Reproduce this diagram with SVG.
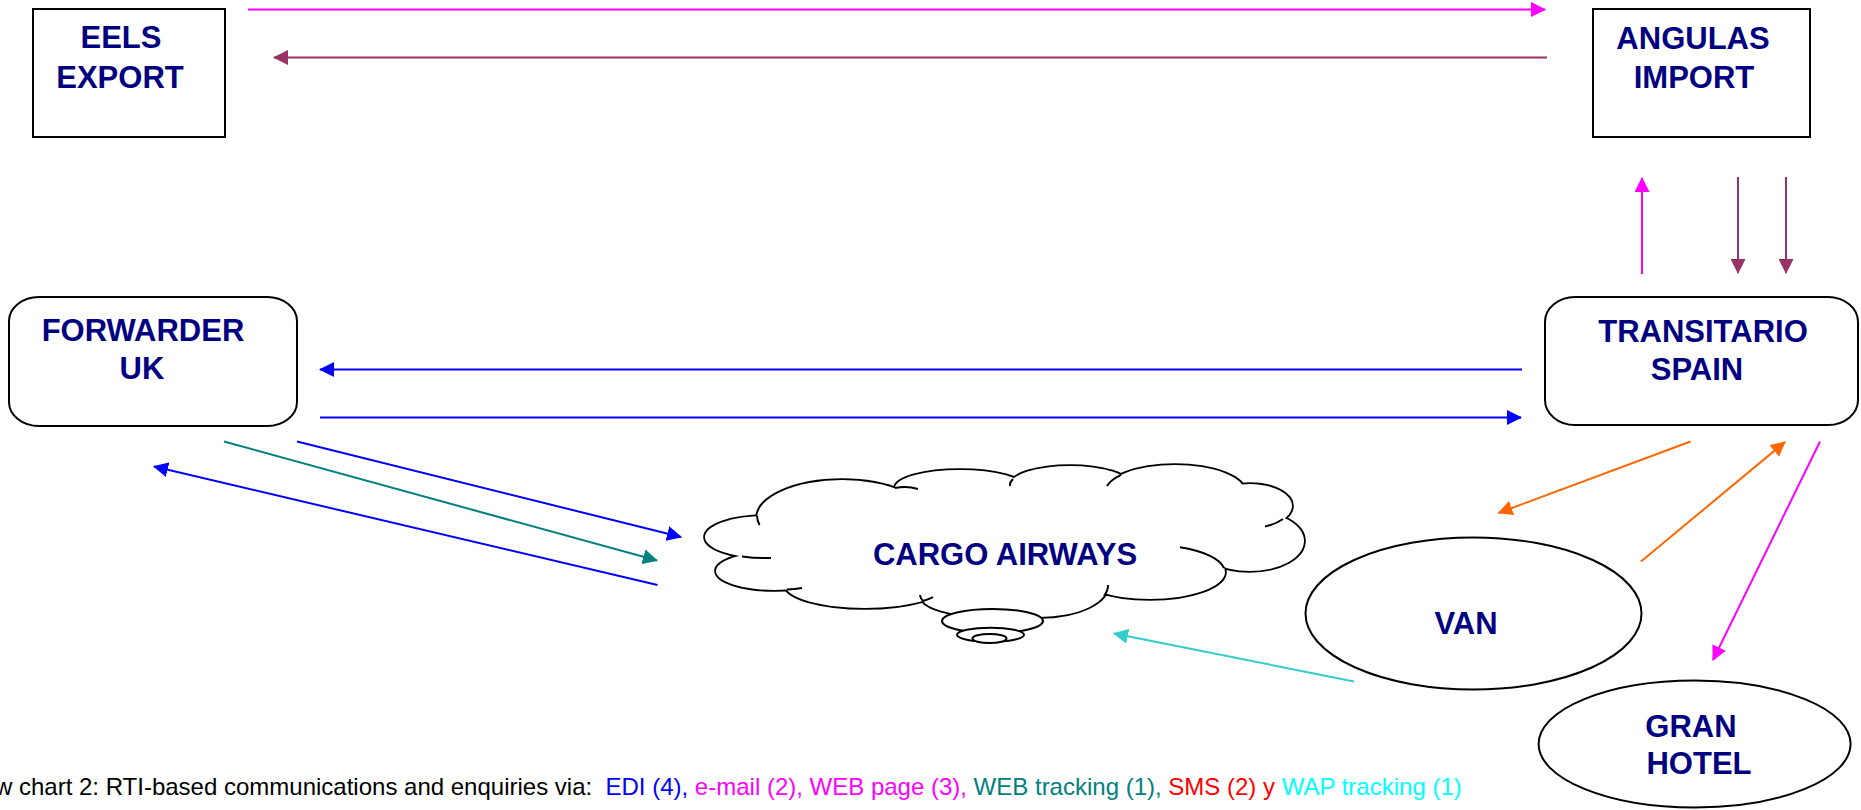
<svg xmlns="http://www.w3.org/2000/svg" xmlns:xlink="http://www.w3.org/1999/xlink" width="1861" height="810" viewBox="0 0 1861 810">
<style>
.box{fill:#fff;stroke:#000;stroke-width:2}
.lbl{font-family:"Liberation Sans",Arial,sans-serif;font-weight:bold;font-size:31px;fill:#000080;text-anchor:middle}
.cap{font-family:"Liberation Sans",Arial,sans-serif;font-size:24px}
.c{fill:none;stroke-width:2}
.tick{fill:none;stroke:#000;stroke-width:2}
</style>
<defs>
<marker id="hMag" viewBox="0 0 15 15" refX="14" refY="7.5" markerWidth="15" markerHeight="15" markerUnits="userSpaceOnUse" orient="auto"><path d="M0,0 L15,7.5 L0,15 Z" fill="#FF00FF"/></marker>
<marker id="hPur" viewBox="0 0 15 15" refX="14" refY="7.5" markerWidth="15" markerHeight="15" markerUnits="userSpaceOnUse" orient="auto"><path d="M0,0 L15,7.5 L0,15 Z" fill="#993366"/></marker>
<marker id="hBlu" viewBox="0 0 15 15" refX="14" refY="7.5" markerWidth="15" markerHeight="15" markerUnits="userSpaceOnUse" orient="auto"><path d="M0,0 L15,7.5 L0,15 Z" fill="#0000FF"/></marker>
<marker id="hTea" viewBox="0 0 15 15" refX="14" refY="7.5" markerWidth="15" markerHeight="15" markerUnits="userSpaceOnUse" orient="auto"><path d="M0,0 L15,7.5 L0,15 Z" fill="#008080"/></marker>
<marker id="hOra" viewBox="0 0 15 15" refX="14" refY="7.5" markerWidth="15" markerHeight="15" markerUnits="userSpaceOnUse" orient="auto"><path d="M0,0 L15,7.5 L0,15 Z" fill="#FF6600"/></marker>
<marker id="hCya" viewBox="0 0 15 15" refX="14" refY="7.5" markerWidth="15" markerHeight="15" markerUnits="userSpaceOnUse" orient="auto"><path d="M0,0 L15,7.5 L0,15 Z" fill="#33CCCC"/></marker>
<g id="lobes">
<ellipse cx="765" cy="537" rx="60" ry="21"/>
<ellipse cx="775" cy="571" rx="59" ry="19"/>
<ellipse cx="865" cy="585" rx="80" ry="23"/>
<ellipse cx="990" cy="595" rx="70" ry="22"/>
<ellipse cx="1040" cy="585" rx="68" ry="32"/>
<ellipse cx="1150" cy="572" rx="75" ry="27"/>
<ellipse cx="1250" cy="541" rx="54" ry="30"/>
<ellipse cx="1250" cy="506" rx="42" ry="22"/>
<ellipse cx="1175" cy="492" rx="70" ry="27"/>
<ellipse cx="1070" cy="485" rx="60" ry="19"/>
<ellipse cx="960" cy="488" rx="65" ry="18"/>
<ellipse cx="842" cy="518" rx="85" ry="38"/>
</g>
</defs>

<g id="eels-export">
<rect class="box" x="33" y="9" width="192" height="128"/>
<text class="lbl" x="121" y="48">EELS</text>
<text class="lbl" x="120" y="88">EXPORT</text>
</g>

<g id="angulas-import">
<rect class="box" x="1593" y="9" width="217" height="128"/>
<text class="lbl" x="1693" y="49">ANGULAS</text>
<text class="lbl" x="1694" y="88">IMPORT</text>
</g>

<g id="forwarder-uk">
<rect class="box" x="9" y="297" width="288" height="129" rx="30" ry="24"/>
<text class="lbl" x="143" y="341">FORWARDER</text>
<text class="lbl" x="142" y="379">UK</text>
</g>

<g id="transitario-spain">
<rect class="box" x="1545" y="297" width="313" height="128" rx="30" ry="25"/>
<text class="lbl" x="1703" y="342">TRANSITARIO</text>
<text class="lbl" x="1697" y="380">SPAIN</text>
</g>

<g id="cargo-airways">
<use xlink:href="#lobes" href="#lobes" fill="none" stroke="#000" stroke-width="3.6"/>
<use xlink:href="#lobes" href="#lobes" fill="#fff" stroke="none"/>
<polygon fill="#fff" points="765,537 842,518 960,488 1070,485 1175,492 1250,506 1250,541 1150,572 1040,585 990,595 865,585 775,571"/>
<path class="tick" d="M742,556.4 A60,21 0 0,0 771,557.9"/>
<path class="tick" d="M787,589.6 A59,19 0 0,0 802,587.9"/>
<path class="tick" d="M757.1,516 A85,38 0 0,0 759.5,525"/>
<path class="tick" d="M895,488 Q907,485.5 918,489"/>
<path class="tick" d="M1283,519 A42,22 0 0,1 1265,526.5"/>
<path class="tick" d="M1180,547.2 A75,27 0 0,1 1224,568"/>
<path class="tick" d="M1108,585 A68,32 0 0,1 1104,596"/>
<path class="tick" d="M920,595 A70,22 0 0,0 923,601"/>
<path class="tick" d="M923,601 A80,23 0 0,0 933,597.1"/>
<path class="tick" d="M1013,479 A60,19 0 0,0 1010,486"/>
<path class="tick" d="M1121,474.8 A70,27 0 0,0 1107,486"/>
<ellipse class="box" cx="992.5" cy="621" rx="50.5" ry="12"/>
<ellipse class="box" cx="990.5" cy="634.7" rx="33.5" ry="7"/>
<ellipse class="box" cx="989.5" cy="638.5" rx="17" ry="4.5"/>
<text class="lbl" x="1005" y="565">CARGO AIRWAYS</text>
</g>

<g id="van">
<ellipse class="box" cx="1473.5" cy="613.5" rx="168" ry="76"/>
<text class="lbl" x="1466" y="634">VAN</text>
</g>

<g id="gran-hotel">
<ellipse class="box" cx="1694.6" cy="744" rx="156" ry="63.5"/>
<text class="lbl" x="1691" y="736.5">GRAN</text>
<text class="lbl" x="1699" y="773.5">HOTEL</text>
</g>

<g id="connectors">
<path class="c" stroke="#FF00FF" marker-end="url(#hMag)" d="M248,9.5 L1545,9.5"/>
<path class="c" stroke="#993366" marker-end="url(#hPur)" d="M1547,57.5 L274,57.5"/>
<path class="c" stroke="#FF00FF" marker-end="url(#hMag)" d="M1642,274 L1642,178"/>
<path class="c" stroke="#993366" marker-end="url(#hPur)" d="M1738,177 L1738,273"/>
<path class="c" stroke="#993366" marker-end="url(#hPur)" d="M1786,177 L1786,273"/>
<path class="c" stroke="#0000FF" marker-end="url(#hBlu)" d="M1522,369.5 L320,369.5"/>
<path class="c" stroke="#0000FF" marker-end="url(#hBlu)" d="M320,417.5 L1521,417.5"/>
<path class="c" stroke="#0000FF" marker-end="url(#hBlu)" d="M297,441.5 L681,537"/>
<path class="c" stroke="#008080" marker-end="url(#hTea)" d="M224,441.5 L657,560.5"/>
<path class="c" stroke="#0000FF" marker-end="url(#hBlu)" d="M657.5,585 L154,466.5"/>
<path class="c" stroke="#FF6600" marker-end="url(#hOra)" d="M1690.5,441.5 L1498.5,513"/>
<path class="c" stroke="#FF6600" marker-end="url(#hOra)" d="M1641,561.5 L1785,442"/>
<path class="c" stroke="#FF00FF" marker-end="url(#hMag)" d="M1820,441.5 L1713,660"/>
<path class="c" stroke="#33CCCC" marker-end="url(#hCya)" d="M1354,681.5 L1114,633.5"/>
</g>

<text class="cap" x="-5" y="795" fill="#000">w chart 2: RTI-based communications and enquiries via:&#160; <tspan fill="#0000FF">EDI (4),</tspan><tspan fill="#FF00FF"> e-mail (2), WEB page (3),</tspan><tspan fill="#008080"> WEB tracking (1),</tspan><tspan fill="#FF0000"> SMS (2) y</tspan><tspan fill="#00FFFF"> WAP tracking (1)</tspan></text>
</svg>
